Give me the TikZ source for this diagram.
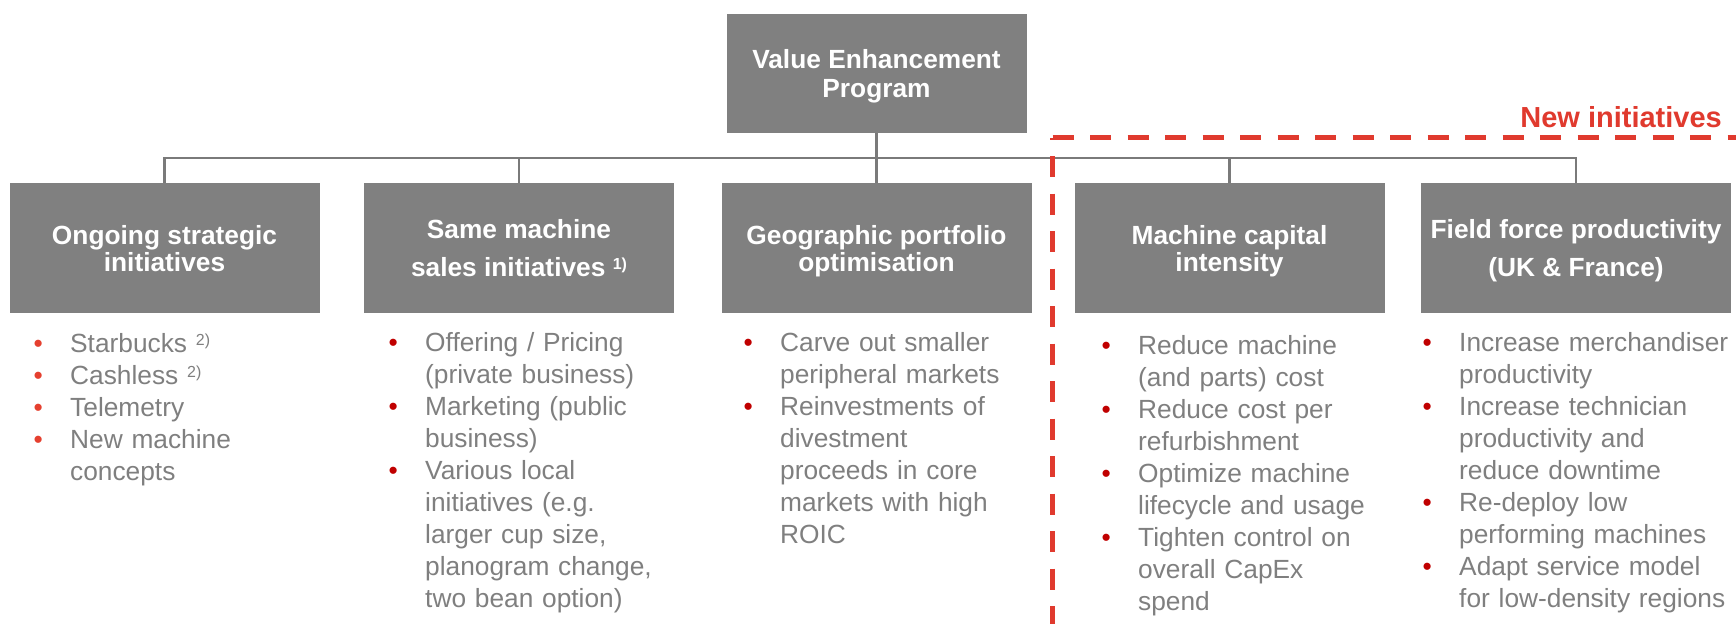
\documentclass[tikz,border=0pt]{standalone}
\usepackage{fontspec}
\setmainfont{Liberation Sans}
\definecolor{boxgray}{HTML}{808080}
\definecolor{linegray}{HTML}{7A7A7A}
\definecolor{textgray}{HTML}{7F7F7F}
\definecolor{dashred}{HTML}{E03A2E}
\definecolor{bulA}{HTML}{E5402F}
\definecolor{bulB}{HTML}{C00000}
\newcommand\myhfont[1]{\bfseries\fontsize{26.3}{#1}\selectfont}
\newcommand\mybfont{\fontsize{26.3}{32}\selectfont}
\newcommand\bul[1]{\leavevmode\llap{\textcolor{#1}{\textbullet}\hspace{27.4pt}}}
\newcommand\sups[1]{\raisebox{7pt}{\fontsize{16}{16}\selectfont #1}}
\newcommand\topr{\rule{0pt}{25pt}}
\newcommand\botr{\rule[-6pt]{0pt}{6pt}}
\begin{document}
\begin{tikzpicture}[x=1pt,y=-1pt,
  hbox/.style={fill=boxgray, text=white, minimum width=310pt, minimum height=130pt,
    inner sep=0pt, align=center},
  topbox/.style={hbox, minimum width=300pt, minimum height=119pt},
  conn/.style={draw=linegray, line width=2.8pt},
  reddash/.style={draw=dashred, line width=5pt, dash pattern=on 21pt off 16.5pt},
  blist/.style={anchor=north west, inner sep=0pt, align=left, text=textgray, font=\mybfont}]
\useasboundingbox (0,0) rectangle (1736,624);

% header boxes
\node[topbox, font=\myhfont{29}] (top) at (876.5,73.5) {\topr Value Enhancement\\Program\botr};
\node[hbox, font=\myhfont{27}] (b1) at (164.5,248) {\topr Ongoing strategic\\initiatives\botr};
\node[hbox, font=\myhfont{38}] (b2) at (519,248) {\topr Same machine\\sales initiatives \sups{1)}\botr};
\node[hbox, font=\myhfont{27}] (b3) at (876.5,248) {\topr Geographic portfolio\\optimisation\botr};
\node[hbox, font=\myhfont{27}] (b4) at (1229.5,248) {\topr Machine capital\\intensity\botr};
\node[hbox, font=\myhfont{38}] (b5) at (1576,248) {\topr Field force productivity\\(UK \& France)\botr};

% connectors
\coordinate (bus) at (876.5,158);
\draw[conn] (top.south) -- (b3.north);
\draw[conn] (b1.north) |- (bus) -| (b5.north);
\draw[conn] (b2.north) -- (b2.north |- bus);
\draw[conn] (b4.north) -- (b4.north |- bus);

% new initiatives frame
\coordinate (nc) at (1052.5,137.5);
\coordinate (ne) at (1736,137.5);
\coordinate (ns) at (1052.5,624);
\draw[reddash] (nc) -- (ne);
\draw[reddash, dash phase=19pt] (nc) -- (ns);
\node[anchor=base east, inner sep=0pt, text=dashred, font=\bfseries\fontsize{29}{29}\selectfont] (newi) at (1722,127) {New initiatives};

% bullet lists
\node[blist, text width=300pt] (l1) at (70,327) {\topr\bul{bulA}Starbucks \sups{2)}\\
\bul{bulA}Cashless \sups{2)}\\
\bul{bulA}Telemetry\\
\bul{bulA}New machine\\
concepts};
\node[blist, text width=300pt] (l2) at (425,326.5) {\topr\bul{bulB}Offering / Pricing\\
(private business)\\
\bul{bulB}Marketing (public\\
business)\\
\bul{bulB}Various local\\
initiatives (e.g.\\
larger cup size,\\
planogram change,\\
two bean option)};
\node[blist, text width=260pt] (l3) at (780,326.5) {\topr\bul{bulB}Carve out smaller\\
peripheral markets\\
\bul{bulB}Reinvestments of\\
divestment\\
proceeds in core\\
markets with high\\
ROIC};
\node[blist, text width=270pt] (l4) at (1138,329.5) {\topr\bul{bulB}Reduce machine\\
(and parts) cost\\
\bul{bulB}Reduce cost per\\
refurbishment\\
\bul{bulB}Optimize machine\\
lifecycle and usage\\
\bul{bulB}Tighten control on\\
overall CapEx\\
spend};
\node[blist, text width=272pt] (l5) at (1459,326.5) {\topr\bul{bulB}Increase merchandiser\\
productivity\\
\bul{bulB}Increase technician\\
productivity and\\
reduce downtime\\
\bul{bulB}Re-deploy low\\
performing machines\\
\bul{bulB}Adapt service model\\
for low-density regions};
\end{tikzpicture}
\end{document}
